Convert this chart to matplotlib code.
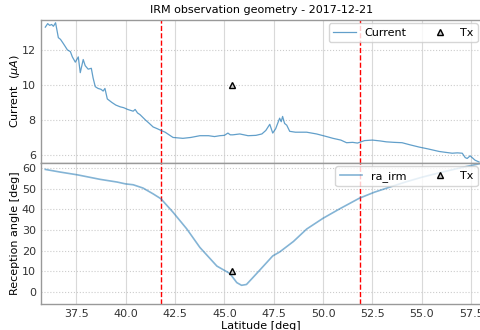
import matplotlib
matplotlib.use('Agg')
import matplotlib.pyplot as plt

# Current along track
lat_cur = [35.93, 36.05, 36.15, 36.25, 36.34, 36.45, 36.59, 36.7, 36.85, 37.05,
           37.2, 37.3, 37.45, 37.6, 37.7, 37.85, 37.95, 38.1, 38.26, 38.35,
           38.46, 38.6, 38.75, 38.86, 38.95, 39.07, 39.3, 39.5, 39.72, 39.9,
           40.1, 40.38, 40.48, 40.6, 40.73, 41.0, 41.2, 41.39, 41.6, 41.79,
           42.0, 42.2, 42.4, 42.9, 43.3, 43.76, 44.2, 44.5, 44.77, 45.0,
           45.18, 45.3, 45.43, 45.78, 46.2, 46.6, 46.9, 47.1, 47.3, 47.45,
           47.6, 47.8, 47.88, 47.95, 48.05, 48.16, 48.31, 48.6, 49.0, 49.17,
           49.67, 50.18, 50.5, 50.9, 51.19, 51.5, 51.74, 52.1, 52.5, 52.9,
           53.2, 53.6, 54.0, 54.4, 54.87, 55.3, 55.88, 56.2, 56.54, 56.8,
           57.05, 57.2, 57.3, 57.45, 57.55, 57.7, 57.9]
current = [13.3, 13.5, 13.4, 13.45, 13.35, 13.55, 12.7, 12.6, 12.35, 12.0,
           11.9, 11.6, 11.3, 11.6, 10.7, 11.45, 11.1, 10.9, 10.95, 10.4,
           9.9, 9.8, 9.75, 9.65, 9.8, 9.2, 9.0, 8.85, 8.75, 8.7,
           8.6, 8.5, 8.6, 8.4, 8.3, 8.0, 7.8, 7.6, 7.5, 7.4,
           7.3, 7.15, 7.0, 6.95, 7.0, 7.1, 7.1, 7.05, 7.1, 7.12,
           7.25, 7.15, 7.15, 7.2, 7.1, 7.12, 7.2, 7.4, 7.75, 7.25,
           7.5, 8.1, 7.9, 8.2, 7.8, 7.7, 7.35, 7.3, 7.3, 7.3,
           7.2, 7.05, 6.95, 6.85, 6.7, 6.72, 6.68, 6.82, 6.85, 6.8,
           6.75, 6.72, 6.7, 6.58, 6.45, 6.35, 6.2, 6.15, 6.1, 6.12,
           6.1, 5.85, 5.8, 5.95, 5.85, 5.7, 5.6]

# Reception angle
lat_ra = [35.93, 36.7, 37.55, 38.71, 39.57, 40.0, 40.38, 40.88, 41.39, 41.79,
          42.4, 43.1, 43.76, 44.62, 45.28, 45.63, 45.87, 46.12, 46.5, 47.0,
          47.45, 47.8, 48.5, 49.17, 50.0, 50.83, 51.84, 52.6, 53.36, 54.2,
          55.03, 55.9, 56.74, 57.3, 57.9]
ra_irm = [59.3, 58.0, 56.7, 54.5, 53.2, 52.3, 51.9, 50.3, 47.5, 45.1,
          38.6, 30.5, 21.6, 12.6, 9.0, 4.6, 3.3, 3.7, 7.6, 12.8,
          17.5, 19.4, 24.5, 30.5, 35.7, 40.2, 45.4, 48.3, 50.7, 53.3,
          55.6, 57.7, 59.6, 60.8, 62.0]

tx_lat = [45.4]
tx_cur = [10.0]
tx_ra = [10.0]
bounds = [41.8, 51.85]

plt.rcParams['font.size'] = 8
fig = plt.figure(figsize=(4.81, 3.30), dpi=100)
ax1 = fig.add_axes([0.086, 0.506, 0.914, 0.433])
ax2 = fig.add_axes([0.086, 0.079, 0.914, 0.427], sharex=ax1)

for ax in (ax1, ax2):
    ax.grid(axis='x', color='0.85', lw=0.8)
    ax.grid(axis='y', color='0.8', ls=':', lw=0.8)
    ax.set_axisbelow(True)
    for s in ax.spines.values():
        s.set_color('0.6')
        s.set_linewidth(1.0)
    ax.tick_params(colors='0.2', length=0, pad=4)
    for b in bounds:
        ax.axvline(b, color='red', ls='--', lw=1)

ax1.plot(lat_cur, current, color='C0', alpha=0.7, lw=0.9, label='Current')
ax1.plot(tx_lat, tx_cur, ls='none', marker='^', ms=5, mfc='0.8', mec='k',
         mew=1, label='Tx')
ax1.set_ylim(5.54, 13.7)
ax1.set_yticks([6, 8, 10, 12])
ax1.set_ylabel(r'Current  ($\mu A$)', labelpad=0)
ax1.set_title('IRM observation geometry - 2017-12-21', fontsize=8, pad=5)
ax1.tick_params(labelbottom=False)
ax1.legend(loc='upper right', ncol=2, fontsize=8, borderaxespad=0.3)

ax2.plot(lat_ra, ra_irm, color='C0', alpha=0.55, lw=1.2, label='ra_irm')
ax2.plot(tx_lat, tx_ra, ls='none', marker='^', ms=5, mfc='0.8', mec='k',
         mew=1, label='Tx')
ax2.set_ylim(-5.7, 62.4)
ax2.set_yticks([0, 10, 20, 30, 40, 50, 60])
ax2.set_ylabel('Reception angle [deg]', labelpad=1)
ax2.set_xlabel('Latitude [deg]', labelpad=1)
ax2.set_xlim(35.73, 58.0)
ax2.set_xticks([37.5, 40, 42.5, 45, 47.5, 50, 52.5, 55, 57.5])
ax2.legend(loc='upper right', ncol=2, fontsize=8, borderaxespad=0.3)

fig.savefig('out.png', dpi=100)
